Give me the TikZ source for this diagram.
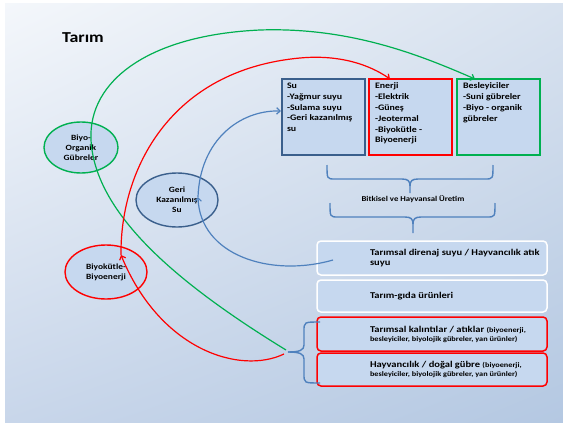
\documentclass[tikz,border=0pt]{standalone}
\usepackage{fontspec}
\setmainfont{Carlito}[FakeStretch=1.18]
\usetikzlibrary{arrows.meta,shapes.geometric,calc,shadings}
\definecolor{boxfill}{HTML}{C6D8EF}
\definecolor{dkblue}{HTML}{3A5F8C}
\definecolor{mblue}{HTML}{4F81BD}
\definecolor{gr}{HTML}{00B050}
\definecolor{rd}{HTML}{FF0000}
\definecolor{bgA}{HTML}{F4F7FB}
\definecolor{bgB}{HTML}{D8E2EF}
\definecolor{bgC}{HTML}{C8D6EA}
\definecolor{bgD}{HTML}{B4C8E2}
\newcommand{\smtxt}[1]{{\fontsize{7.0}{8}\selectfont #1}}
\begin{document}
\begin{tikzpicture}[x=1pt,y=-1pt,
 every node/.style={inner sep=0pt, outer sep=0pt},
 topbox/.style={draw, line width=1.5pt, fill=boxfill, minimum width=83pt, minimum height=76pt, anchor=north west},
 boxtext/.style={anchor=north west, align=left, font=\bfseries\fontsize{8.4}{10.8}\selectfont},
 lowbox/.style={draw, line width=1.5pt, fill=boxfill, rounded corners=4pt, minimum width=230pt, anchor=north west},
 lowtext/.style={anchor=west, align=left, font=\bfseries\fontsize{8.9}{9.4}\selectfont},
 oval/.style={ellipse, draw, line width=1.4pt, fill=boxfill, minimum width=82pt, minimum height=54pt, align=center, font=\bfseries\fontsize{8}{10}\selectfont},
 curve/.style={line width=1.2pt, -{Straight Barb[length=3.5pt,width=6.5pt]}},
 bracel/.style={draw=mblue, line width=1.4pt}
]
\fill[white] (0,0) rectangle (563,423);
\useasboundingbox (0,0) rectangle (563,423);
\shade[upper left=bgA, upper right=bgB, lower left=bgC, lower right=bgD] (5,3) rectangle (563,423);

\node[anchor=west, font=\bfseries\fontsize{15.2}{18}\selectfont] (title) at (62,38) {Tarım};

% top boxes
\node[topbox, draw=dkblue] (su) at (282,79) {};
\node[topbox, draw=rd] (en) at (369,79) {};
\node[topbox, draw=gr] (bes) at (457,79) {};
\node[boxtext] (sut) at (287,83) {Su\\-Yağmur suyu\\-Sulama suyu\\-Geri kazanılmış\\su};
\node[boxtext] (ent) at (375,83) {Enerji\\-Elektrik\\-Güneş\\-Jeotermal\\-Biyokütle -\\Biyoenerji};
\node[boxtext] (best) at (463,83) {Besleyiciler\\-Suni gübreler\\-Biyo - organik\\gübreler};

% braces
\draw[bracel] (327,165) .. controls (327,179) .. (335,179) -- (402,179) .. controls (408,179) and (410,181) .. (410,186) -- (410,193);
\draw[bracel] (410,186) .. controls (410,181) and (412,179) .. (418,179) -- (485,179) .. controls (493,179) .. (493,165);
\node[font=\bfseries\fontsize{7.4}{9}\selectfont] (bhu) at (413,199) {Bitkisel ve Hayvansal Üretim};
\draw[bracel] (330,203) .. controls (330,217) .. (338,217) -- (405,217) .. controls (411,217) and (413,219) .. (413,224) -- (413,233);
\draw[bracel] (413,224) .. controls (413,219) and (415,217) .. (421,217) -- (487,217) .. controls (495,217) .. (495,203);

% lower boxes
\node[lowbox, draw=white, minimum height=34pt] (dren) at (317,241) {};
\node[lowbox, draw=white, minimum height=32pt] (gida) at (317,280) {};
\node[lowbox, draw=rd, minimum height=34pt] (kal) at (317,317) {};
\node[lowbox, draw=rd, minimum height=33pt] (hay) at (317,353) {};
\node[lowtext] (drent) at (370,258) {Tarımsal direnaj suyu / Hayvancılık atık\\suyu};
\node[lowtext] (gidat) at (370,296) {Tarım-gıda ürünleri};
\node[lowtext] (kalt) at (370,334.5) {Tarımsal kalıntılar / atıklar \smtxt{(biyoenerji,}\\\smtxt{besleyiciler, biyolojik gübreler, yan ürünler)}};
\node[lowtext] (hayt) at (370,369.5) {Hayvancılık / doğal gübre \smtxt{(biyoenerji,}\\\smtxt{besleyiciler, biyolojik gübreler, yan ürünler)}};

% left brace
\draw[bracel] (320,322) .. controls (304,322) .. (304,331) -- (304,345) .. controls (304,350) and (300,352) .. (288,352);
\draw[bracel] (288,352) .. controls (300,352) and (304,354) .. (304,359) -- (304,374) .. controls (304,383) .. (320,383);
\coordinate (gtip) at (286,350);
\coordinate (rtip) at (284,354);

% ellipses
\node[oval, draw=gr, minimum width=74pt, minimum height=51pt] (bog) at (81,147.5) {Biyo-\\Organik\\Gübreler};
\node[oval, draw=dkblue] (gks) at (177,200) {Geri\\Kazanılmış\\Su};
\node[oval, draw=rd] (bb) at (106,272) {Biyokütle-\\Biyoenerji};

% connector end points
\coordinate (bbin) at (121,255);
\coordinate (gksin) at (198,197);
\coordinate (enin) at (390,79);
\coordinate (besin) at (475,79);
\coordinate (suin) at (281,111);
\coordinate (drenout) at (333,260);
\coordinate (gpass) at (91,140);
\coordinate (gpeak) at (260,30);
\coordinate (rpeak) at (300,58);

% curves
\draw[curve, draw=gr] (gtip) .. controls (180,285) and (95,215) .. (gpass) .. controls (88,80) and (150,35) .. (gpeak) .. controls (350,27) and (420,55) .. (besin);
\draw[curve, draw=rd] (rtip) .. controls (240,375) and (160,350) .. (bbin);
\draw[curve, draw=rd] (bbin) .. controls (120,170) and (170,70) .. (rpeak) .. controls (340,54.3) and (370,65) .. (enin);
\draw[curve, draw=mblue] (drenout) .. controls (270,278) and (200,255) .. (gksin);
\draw[curve, draw=mblue] (gksin) .. controls (200,140) and (240,110) .. (suin);
\end{tikzpicture}
\end{document}
